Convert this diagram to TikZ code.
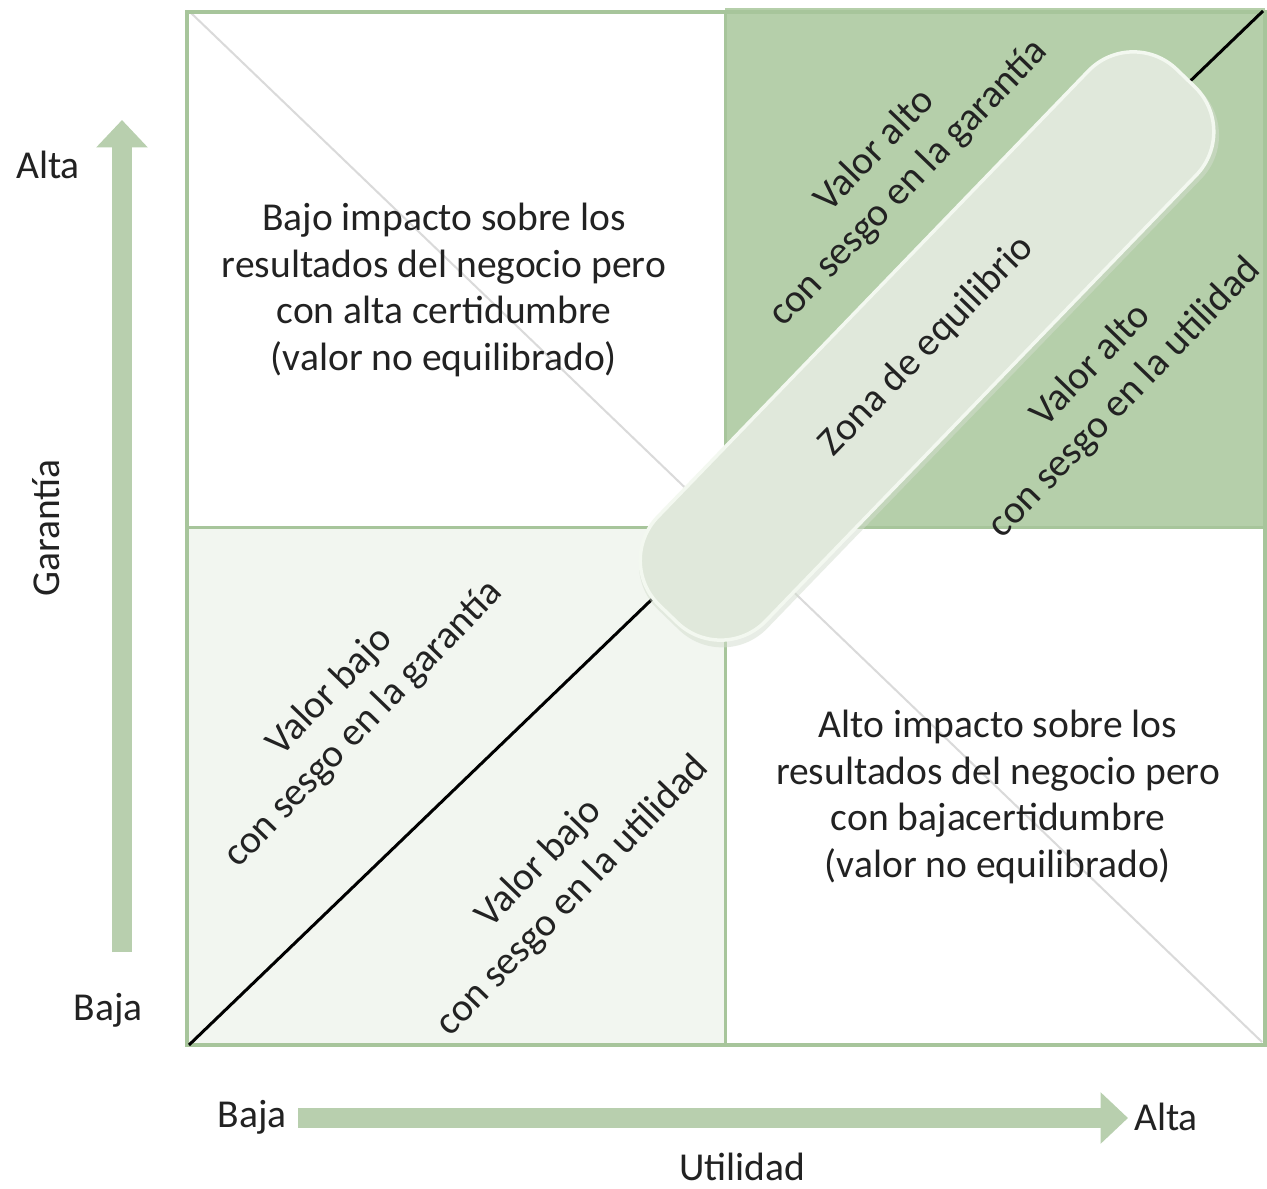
\documentclass[tikz,border=0pt]{standalone}
\usepackage{fontspec}
\setmainfont{Carlito}
\usetikzlibrary{arrows.meta}
\definecolor{qgreen}{HTML}{B5CFAA}
\definecolor{qline}{HTML}{A7C59B}
\definecolor{qlight}{HTML}{F2F6F0}
\definecolor{capfill}{HTML}{E0E8DB}
\definecolor{capedge}{HTML}{F3F8F0}
\definecolor{capshadow}{HTML}{D3DDCE}
\definecolor{axgreen}{HTML}{B8CFAE}
\definecolor{greydiag}{HTML}{DADADA}
\definecolor{txt}{HTML}{222222}
\begin{document}
\begin{tikzpicture}[x=0.02cm,y=0.02cm,
  lbl/.style={font=\fontsize{22.5}{26.7}\selectfont, text=txt, inner sep=0pt, align=center},
  rlbl/.style={lbl, rotate=46},
  capsule/.style={lbl, rotate=46, fill=capfill, draw=capedge, line width=0.07cm,
     rounded corners=1.25cm, minimum width=14.9cm, minimum height=3.0cm},
  axisarrow/.style={axgreen, line width=0.4cm, -{Triangle[length=0.55cm,width=1cm]}},
  border/.style={qline, line width=0.08cm},
  midline/.style={qline, line width=0.06cm}]
\useasboundingbox (0,0) rectangle (1267,1188);
\fill[white] (0,0) rectangle (1267,1188);
% quadrants
\fill[qgreen] (725,661) rectangle (1265,1180);
\fill[qlight] (187,143) rectangle (725,661);
% grey anti-diagonal
\coordinate (tl) at (190,1176);
\coordinate (br) at (1262,146);
\draw[greydiag, line width=0.04cm] (tl) -- (br);
% borders
\draw[border] (187,143) rectangle (1265,1176);
\draw[midline] (725,143) -- (725,1176);
\draw[midline] (187,661) -- (1265,661);
% black diagonal
\coordinate (bl) at (189,143);
\coordinate (tr) at (1263,1177);
\draw[black, line width=0.06cm] (bl) -- (tr);
% capsule (with a soft shadow)
\fill[capshadow, opacity=0.5, rotate around={46:(929,838)}, rounded corners=1.25cm]
   (929-375,838-77) rectangle (929+375,838+77);
\node[capsule] (zona) at (927,842) {Zona de equilibrio};
% quadrant texts
\node[lbl] (tlq) at (444,898) {Bajo impacto sobre los\\resultados del negocio pero\\con alta certidumbre\\(valor no equilibrado)};
\node[lbl] (brq) at (998,391) {Alto impacto sobre los\\resultados del negocio pero\\con bajacertidumbre\\(valor no equilibrado)};
\node[rlbl] (vag) at (892,1021) {Valor alto\\con sesgo en la garantía};
\node[rlbl] (vau) at (1108,806) {Valor alto\\con sesgo en la utilidad};
\node[rlbl] (vbg) at (347,480) {Valor bajo\\con sesgo en la garantía};
\node[rlbl] (vbu) at (556,308) {Valor bajo\\con sesgo en la utilidad};
% axis labels
\node[lbl] (altaG) at (48,1023) {Alta};
\node[lbl] (bajaG) at (108,178) {Baja};
\node[lbl, rotate=90] (gar) at (46,660) {Garantía};
\node[lbl] (bajaU) at (252,71) {Baja};
\node[lbl] (altaU) at (1166,71) {Alta};
\node[lbl] (util) at (742,21) {Utilidad};
% axis arrows
\coordinate (vs) at (122,236);
\coordinate (ve) at (122,1068);
\draw[axisarrow] (vs) -- (ve);
\coordinate (hs) at (298,70);
\coordinate (he) at (1128,70);
\draw[axisarrow] (hs) -- (he);
\end{tikzpicture}
\end{document}
